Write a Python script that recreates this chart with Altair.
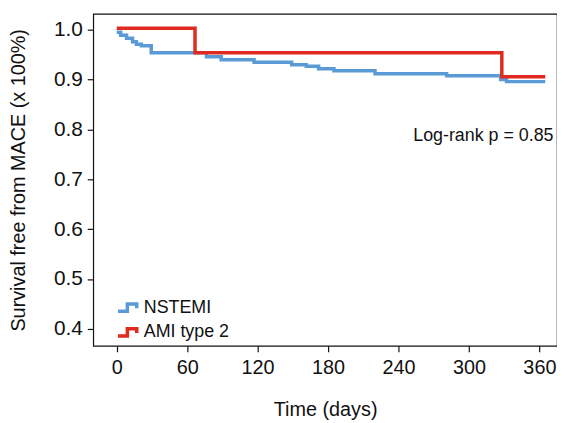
import altair as alt
import pandas as pd

groups = ["NSTEMI", "AMI type 2"]
colors = ["#5b9bd5", "#e0291f"]

nstemi_days = [0, 3.4, 8.4, 13.5, 16.8, 21, 29.4, 76.5, 89, 117, 149, 161.5, 172, 185, 220, 281, 327, 332, 365]
nstemi_surv = [0.995, 0.989, 0.983, 0.976, 0.971, 0.968, 0.954, 0.946, 0.940, 0.935, 0.930, 0.927, 0.922,
               0.918, 0.912, 0.908, 0.900, 0.896, 0.896]

ami2_days = [0, 66.7, 328, 365]
ami2_surv = [1.003, 0.954, 0.906, 0.906]

x_ticks = [0, 60, 120, 180, 240, 300, 360]
y_ticks = [0.4, 0.5, 0.6, 0.7, 0.8, 0.9, 1.0]

annot_text = ["Log-rank p = 0.85"]
annot_day = [372]
annot_surv = [0.787]

rows = []
for g, days, surv in [(groups[0], nstemi_days, nstemi_surv), (groups[1], ami2_days, ami2_surv)]:
    for i, (d, s) in enumerate(zip(days, surv)):
        rows.append({"group": g, "day": d, "surv": s, "order": i})
df = pd.DataFrame(rows)

annot = pd.DataFrame({"text": annot_text, "day": annot_day, "surv": annot_surv})

xscale = alt.Scale(domain=[-20, 375], nice=False, zero=False)
yscale = alt.Scale(domain=[0.366, 1.032], nice=False, zero=False)

step_path = "M-1,0.35H-0.1V-0.35H0.8V0.05"

lines = alt.Chart(df).mark_line(interpolate="step-after", strokeWidth=3.5).encode(
    x=alt.X("day:Q", scale=xscale,
            axis=alt.Axis(values=x_ticks, title="Time (days)", format="d")),
    y=alt.Y("surv:Q", scale=yscale,
            axis=alt.Axis(values=y_ticks, title="Survival free from MACE (x 100%)", format=".1f")),
    color=alt.Color("group:N", scale=alt.Scale(domain=groups, range=colors),
                    legend=alt.Legend(title=None, orient="none", legendX=23, legendY=284,
                                      symbolType=step_path, symbolSize=441,
                                      symbolStrokeWidth=3.5, symbolFillColor="transparent",
                                      labelFontSize=18, labelColor="#111", labelOffset=3,
                                      rowPadding=1, padding=0, labelFont="Liberation Sans")),
    order="order:Q",
    detail="group:N",
)

text = alt.Chart(annot).mark_text(align="right", baseline="middle", fontSize=18,
                                  font="Liberation Sans", color="#111").encode(
    x=alt.X("day:Q", scale=xscale),
    y=alt.Y("surv:Q", scale=yscale),
    text="text:N",
)

chart = alt.layer(lines, text).properties(
    width=468, height=335,
    autosize=alt.AutoSizeParams(type="none"),
    padding={"left": 86, "top": 4, "right": 0, "bottom": 76},
).configure_view(
    stroke="#111", strokeWidth=1.2
).configure_axis(
    domain=False, grid=False,
    tickColor="#111", tickSize=6, tickWidth=1.2,
    labelFont="Liberation Sans", labelFontSize=20, labelColor="#111",
    titleFont="Liberation Sans", titleFontSize=20, titleFontWeight="normal", titleColor="#111",
).configure_axisX(
    labelPadding=6, titlePadding=22
).configure_axisY(
    labelFontSize=21, labelPadding=5, titlePadding=25
)

chart.save("out.html", embed_options={"renderer": "svg", "actions": False})
